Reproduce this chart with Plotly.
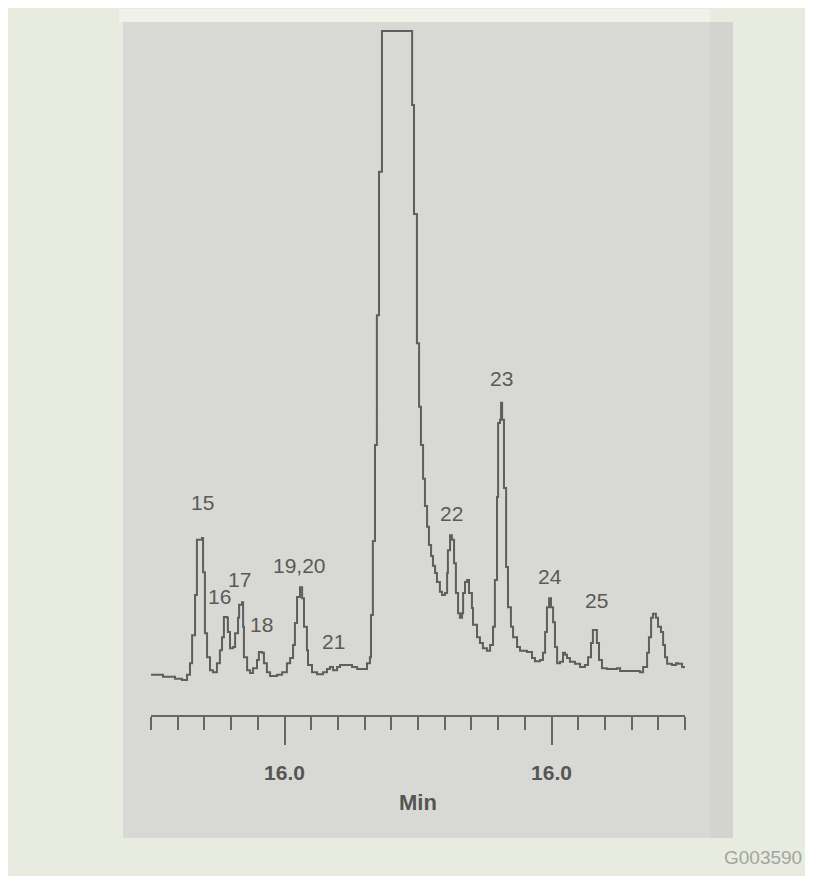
import plotly.graph_objects as go

# ---- data (time in min, detector signal, arbitrary units) ----
time_min = [
    14.500, 14.545, 14.590, 14.616, 14.635, 14.646, 14.654, 14.665, 14.672, 14.691,
    14.695, 14.702, 14.710, 14.721, 14.732, 14.747, 14.758, 14.766, 14.773, 14.785,
    14.788, 14.796, 14.807, 14.815, 14.826, 14.830, 14.841, 14.845, 14.848, 14.860,
    14.871, 14.882, 14.897, 14.904, 14.916, 14.923, 14.934, 14.946, 14.972, 14.991,
    15.009, 15.021, 15.032, 15.039, 15.047, 15.058, 15.066, 15.073, 15.084, 15.088,
    15.103, 15.122, 15.144, 15.159, 15.170, 15.182, 15.197, 15.208, 15.234, 15.253,
    15.272, 15.301, 15.309, 15.320, 15.324, 15.331, 15.339, 15.346, 15.354, 15.365,
    15.478, 15.485, 15.496, 15.504, 15.511, 15.519, 15.526, 15.534, 15.541, 15.549,
    15.556, 15.564, 15.571, 15.582, 15.590, 15.601, 15.609, 15.612, 15.620, 15.627,
    15.635, 15.642, 15.650, 15.657, 15.665, 15.669, 15.676, 15.684, 15.691, 15.702,
    15.706, 15.721, 15.732, 15.743, 15.758, 15.770, 15.781, 15.788, 15.796, 15.800,
    15.807, 15.811, 15.815, 15.822, 15.830, 15.837, 15.848, 15.856, 15.871, 15.882,
    15.908, 15.927, 15.938, 15.957, 15.968, 15.976, 15.983, 15.991, 15.998, 16.006,
    16.013, 16.021, 16.032, 16.043, 16.051, 16.058, 16.069, 16.088, 16.107, 16.125,
    16.137, 16.148, 16.155, 16.163, 16.170, 16.178, 16.189, 16.208, 16.245, 16.257,
    16.331, 16.343, 16.358, 16.365, 16.373, 16.380, 16.391, 16.399, 16.410, 16.418,
    16.425, 16.433, 16.451, 16.466, 16.474, 16.489, 16.496,
]
signal = [
    0.8, 0.5, 0.2, 0.0, 0.8, 2.6, 6.9, 13.1, 21.6, 21.9,
    16.6, 7.2, 3.5, 1.5, 1.2, 2.6, 4.6, 6.6, 9.7, 9.6,
    7.4, 4.9, 5.1, 7.2, 9.6, 11.6, 12.0, 8.2, 3.5, 1.5,
    1.1, 1.8, 3.1, 4.3, 4.2, 2.6, 1.2, 0.6, 0.8, 1.2,
    2.6, 3.4, 5.4, 8.8, 12.8, 14.3, 12.6, 8.2, 4.6, 2.3,
    1.2, 0.9, 1.2, 1.7, 2.0, 1.5, 2.0, 2.3, 2.3, 2.0,
    1.7, 1.7, 2.6, 3.5, 10.0, 21.4, 36.2, 56.2, 78.3, 100.0,
    88.6, 71.8, 51.9, 42.1, 36.2, 31.0, 26.8, 23.6, 20.8, 19.1,
    17.6, 16.5, 15.1, 13.6, 13.1, 13.4, 16.5, 20.0, 22.3, 21.6,
    18.0, 13.4, 10.3, 9.6, 10.3, 13.4, 15.1, 15.4, 13.4, 11.1,
    8.5, 6.6, 5.7, 4.9, 4.5, 5.4, 8.2, 15.4, 28.2, 39.6,
    40.1, 42.7, 40.1, 29.6, 17.4, 11.2, 8.2, 6.6, 5.1, 4.5,
    4.3, 3.4, 2.9, 3.1, 4.2, 7.4, 11.2, 12.6, 11.2, 8.9,
    5.1, 2.6, 2.8, 4.2, 3.9, 3.4, 2.8, 2.5, 2.0, 2.3,
    3.5, 5.7, 7.7, 7.7, 5.7, 3.1, 1.8, 1.7, 1.8, 1.4,
    1.2, 2.0, 4.2, 6.6, 9.6, 10.2, 9.6, 8.2, 7.4, 5.4,
    3.5, 2.5, 2.3, 2.6, 2.5, 2.0, 1.8,
]

peak_labels = ["15", "16", "17", "18", "19,20", "21", "22", "23", "24", "25"]
peak_label_time = [14.691, 14.757, 14.833, 14.912, 15.056, 15.185, 15.624, 15.811, 15.993, 16.167]
peak_label_signal = [27.3, 12.9, 15.5, 8.5, 17.7, 6.0, 25.6, 46.5, 16.0, 12.2]

tick_times = [15.0, 16.0]
tick_text = ["16.0", "16.0"]
axis_title = "Min"
figure_code = "G003590"

# ---- layout geometry (pixels, figure coordinates; page adds an 8px body margin) ----
OFF = 8
W, H = 813, 876
ML, MR, MT, MB = 143, 136, 17, 169
PW, PH = W - ML - MR, H - MT - MB


def px(x):
    return (x - OFF - ML) / PW


def py(y):
    return (H - MB - (y - OFF)) / PH


def rect(x0, y0, x1, y1, color):
    return dict(type="rect", xref="paper", yref="paper", layer="below",
                x0=px(x0), x1=px(x1), y0=py(y1), y1=py(y0),
                fillcolor=color, line=dict(width=0))


fig = go.Figure()
fig.add_trace(go.Scatter(
    x=time_min, y=signal, mode="lines", line_shape="hv",
    line=dict(color="#5e5e5e", width=2), hoverinfo="skip", showlegend=False,
))

for t, s, lab in zip(peak_label_time, peak_label_signal, peak_labels):
    fig.add_annotation(x=t, y=s, text=lab, showarrow=False, xanchor="center", yanchor="middle",
                       font=dict(family="Liberation Sans, Arial, sans-serif", size=21, color="#5a5a5a"))

fig.add_annotation(xref="paper", yref="paper", x=px(804), y=py(857), text=figure_code,
                   showarrow=False, xanchor="right", yanchor="middle",
                   font=dict(family="Liberation Sans, Arial, sans-serif", size=19, color="#a3a5a0"))

shapes = [
    rect(119, 9, 710, 22, "#f0f2ea"),
    rect(123, 22, 733, 838, "#d8d9d4"),
    rect(710, 22, 733, 838, "#d3d4cf"),
]

fig.update_layout(
    width=W, height=H,
    margin=dict(l=ML, r=MR, t=MT, b=MB, pad=0),
    paper_bgcolor="#e8ebdf",
    plot_bgcolor="rgba(0,0,0,0)",
    shapes=shapes,
    xaxis=dict(
        range=[14.5, 16.5], showgrid=False, zeroline=False,
        showline=True, linecolor="#666666", linewidth=1.5,
        tickmode="array", tickvals=tick_times, ticktext=tick_text,
        ticks="outside", ticklen=28, tickwidth=1.5, tickcolor="#666666",
        ticklabelstandoff=10,
        tickfont=dict(family="Liberation Sans, Arial, sans-serif", size=21, color="#555555", weight="bold"),
        minor=dict(tick0=14.5, dtick=0.1, ticks="outside", ticklen=13, tickwidth=1.5,
                   tickcolor="#666666", showgrid=False),
        title=dict(text=axis_title, standoff=12,
                   font=dict(family="Liberation Sans, Arial, sans-serif", size=22, color="#555555", weight="bold")),
    ),
    yaxis=dict(visible=False, range=[-5.39, 100.92]),
)

fig.write_html("out.html")
